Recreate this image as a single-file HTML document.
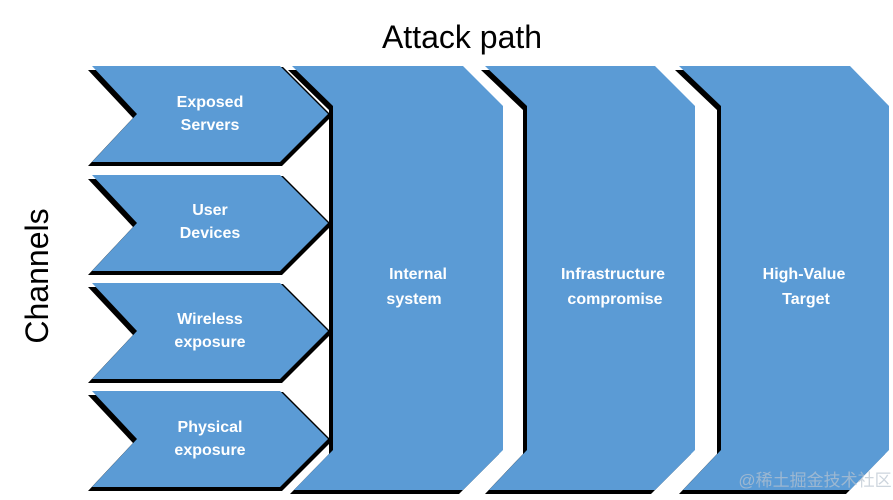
<!DOCTYPE html>
<html><head><style>body{margin:0;background:#fff}svg{display:block}</style></head><body>
<svg width="893" height="500" xmlns="http://www.w3.org/2000/svg" font-family="Liberation Sans, sans-serif">
<defs>
<g id="p1"><polygon points="292,66 463,66 503,106 503,450 463,490 294,490 333,450 333,106"/></g>
<g id="p2"><polygon points="485,66 655,66 695,106 695,450 655,490 489,490 527,450 527,106"/></g>
<g id="p3"><polygon points="679,66 850,66 889,106 889,450 850,490 683,490 721,450 721,106"/></g>
<g id="c"><polygon points="92,0 280,0 328,48 280,96 92,96 137,48"/></g>
<g id="cc"><use href="#c" y="66"/><use href="#c" y="175"/><use href="#c" y="283"/><use href="#c" y="391"/></g>
</defs>
<g fill="#000">
<g transform="translate(-4,4)"><use href="#p1"/><use href="#p2"/><use href="#p3"/><use href="#cc"/></g>
<g transform="translate(3,1)"><use href="#cc"/></g>
<g transform="translate(2,4)"><use href="#cc"/></g>
</g>
<g fill="#5b9bd5">
<use href="#p1"/><use href="#p2"/><use href="#p3"/><use href="#cc"/>
</g>
<text x="462" y="48" font-size="32" text-anchor="middle" fill="#000">Attack path</text>
<text transform="translate(48,276) rotate(-90)" font-size="32" text-anchor="middle" fill="#000">Channels</text>
<g fill="#fff" font-size="16" font-weight="bold" text-anchor="middle">
<text x="210" y="107">Exposed</text><text x="210" y="130">Servers</text>
<text x="210" y="215">User</text><text x="210" y="238">Devices</text>
<text x="210" y="324">Wireless</text><text x="210" y="347">exposure</text>
<text x="210" y="432">Physical</text><text x="210" y="455">exposure</text>
<text x="418" y="279">Internal</text><text x="414" y="304">system</text>
<text x="613" y="279">Infrastructure</text><text x="615" y="304">compromise</text>
<text x="804" y="279">High-Value</text><text x="806" y="304">Target</text>
</g>
<text x="815" y="486" font-size="17" text-anchor="middle" fill="#b8c4d0" opacity="0.7" font-family="Liberation Sans, Noto Sans CJK SC, sans-serif">@稀土掘金技术社区</text>
</svg>
</body></html>
